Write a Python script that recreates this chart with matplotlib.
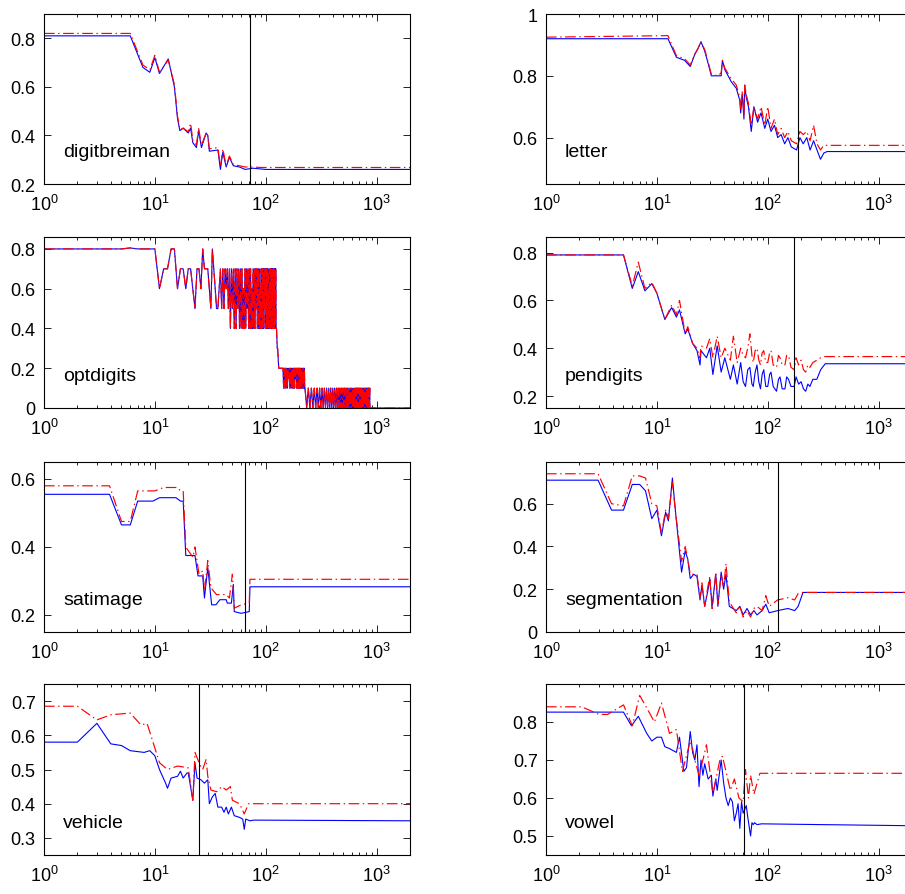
import numpy as np
import matplotlib
matplotlib.use("Agg")
import matplotlib.pyplot as plt
from matplotlib.ticker import FuncFormatter

plt.rcParams['font.family'] = ['Liberation Sans', 'DejaVu Sans']

# digitbreiman
db_xb = [1, 6, 7.8, 9, 10, 11, 13.2, 15, 16, 16.8, 18, 20, 21, 22, 23.7, 24.8, 26.3, 29, 30, 31,
         37, 39, 41, 44, 47, 51, 58, 65, 77, 90, 100, 2000]
db_yb = [0.81, 0.81, 0.68, 0.66, 0.72, 0.655, 0.715, 0.60, 0.47, 0.42, 0.43, 0.41, 0.43, 0.37, 0.35, 0.42, 0.35, 0.41, 0.40, 0.335,
         0.34, 0.26, 0.33, 0.27, 0.31, 0.275, 0.27, 0.26, 0.265, 0.262, 0.26, 0.26]
db_yr = [0.82, 0.82, 0.69, 0.67, 0.73, 0.66, 0.71, 0.61, 0.48, 0.425, 0.43, 0.415, 0.45, 0.38, 0.36, 0.43, 0.36, 0.41, 0.40, 0.345,
         0.35, 0.27, 0.345, 0.275, 0.315, 0.28, 0.275, 0.27, 0.27, 0.268, 0.268, 0.268]

# letter
lt_x = [1, 12.6, 15, 17.8, 20, 22, 23.6, 25, 27, 29, 31, 35.6, 38, 39, 41, 47, 52, 56, 57, 59,
        61, 62, 64, 67, 71, 75, 81, 87, 94, 100, 107, 115, 123, 132, 142, 152, 163, 182, 195, 209,
        225, 241, 259, 278, 299, 320, 343, 2000]
lt_yb = [0.92, 0.92, 0.86, 0.85, 0.83, 0.87, 0.89, 0.91, 0.88, 0.84, 0.80, 0.80, 0.80, 0.85, 0.82, 0.78, 0.76, 0.72, 0.68, 0.74,
         0.66, 0.77, 0.73, 0.70, 0.62, 0.70, 0.65, 0.68, 0.63, 0.66, 0.62, 0.64, 0.60, 0.61, 0.58, 0.60, 0.57, 0.56, 0.60, 0.58,
         0.60, 0.56, 0.59, 0.56, 0.53, 0.55, 0.555, 0.555]
lt_yr = [0.925, 0.93, 0.865, 0.855, 0.835, 0.87, 0.89, 0.91, 0.885, 0.845, 0.805, 0.80, 0.81, 0.85, 0.825, 0.79, 0.77, 0.73, 0.69, 0.75,
         0.67, 0.77, 0.74, 0.71, 0.64, 0.70, 0.66, 0.70, 0.64, 0.70, 0.63, 0.66, 0.61, 0.63, 0.60, 0.62, 0.59, 0.58, 0.62, 0.61,
         0.62, 0.59, 0.64, 0.58, 0.56, 0.575, 0.575, 0.575]

# optdigits (red and blue read as the same curve)
op_x = ([1, 5, 6, 7, 10, 11, 12, 13, 14, 15, 16, 17, 18, 19, 20, 21, 22, 23, 24, 25, 26, 27, 28, 30, 31, 32, 33, 34, 35, 36,
         37, 38, 39, 40] + list(range(41, 126)) + [127, 128, 131, 133, 140] + list(range(143, 226, 2))
        + list(range(226, 867, 8)) + [870, 2000])
op_y = ([0.8, 0.8, 0.805, 0.8, 0.8, 0.6, 0.7, 0.7, 0.8, 0.8, 0.6, 0.7, 0.7, 0.6, 0.7, 0.7, 0.6, 0.5, 0.7, 0.7,
         0.6, 0.8, 0.7, 0.7, 0.6, 0.5, 0.8, 0.7, 0.6, 0.5, 0.5, 0.6, 0.7, 0.5]
        + [0.7, 0.5, 0.7, 0.6, 0.7, 0.5, 0.7, 0.4, 0.7, 0.5,
           0.7, 0.4, 0.7, 0.4, 0.7, 0.5, 0.7, 0.4, 0.7, 0.4,
           0.7, 0.4, 0.6, 0.4, 0.7, 0.4, 0.7, 0.5, 0.7, 0.4,
           0.7, 0.4, 0.7, 0.4, 0.6, 0.4, 0.7, 0.4, 0.7, 0.4,
           0.7, 0.5, 0.7, 0.4, 0.7, 0.4, 0.7, 0.4, 0.6, 0.4,
           0.7, 0.4, 0.7, 0.4, 0.7, 0.4, 0.7, 0.5, 0.7, 0.4,
           0.7, 0.4, 0.7, 0.4, 0.7, 0.4, 0.6, 0.4, 0.7, 0.4,
           0.7, 0.4, 0.7, 0.4, 0.7, 0.4, 0.7, 0.4, 0.7, 0.4,
           0.7, 0.4, 0.7, 0.4, 0.4]
        + [0.3, 0.3, 0.2, 0.2, 0.2]
        + [0.2, 0.1, 0.2, 0.1, 0.2, 0.1, 0.2, 0.1, 0.2, 0.15, 0.2, 0.1, 0.2, 0.1,
           0.2, 0.1, 0.2, 0.1, 0.2, 0.1, 0.2, 0.15, 0.2, 0.1, 0.2, 0.1, 0.2, 0.1,
           0.2, 0.1, 0.2, 0.1, 0.2, 0.1, 0.2, 0.1, 0.2, 0.1, 0.2, 0.1, 0.2, 0.1]
        + [0.1, 0.0, 0.1, 0.0, 0.1, 0.0, 0.1, 0.0, 0.1, 0.0, 0.1, 0.0, 0.1, 0.0, 0.1, 0.0, 0.1, 0.0,
           0.1, 0.0, 0.1, 0.0, 0.1, 0.0, 0.1, 0.0, 0.1, 0.0, 0.1, 0.0, 0.1, 0.0, 0.1, 0.0, 0.1, 0.0,
           0.1, 0.0, 0.1, 0.0, 0.1, 0.0, 0.1, 0.0, 0.1, 0.0, 0.1, 0.0, 0.1, 0.0, 0.1, 0.0, 0.1, 0.0,
           0.1, 0.0, 0.1, 0.0, 0.1, 0.0, 0.1, 0.0, 0.1, 0.0, 0.1, 0.0, 0.1, 0.0, 0.1, 0.0, 0.1, 0.0,
           0.1, 0.0, 0.1, 0.0, 0.1, 0.0, 0.1, 0.0, 0.1]
        + [0.0, 0.0])

# pendigits
pd_x = [1, 5, 6, 6.8, 7.8, 9, 10, 11.8, 13.6, 15, 16, 18, 19, 21, 23, 24.5, 25, 28, 30, 32,
        35, 38, 41, 46, 49, 53, 57, 60, 63, 66, 69, 72, 74, 77, 80, 83, 86, 89, 92, 96,
        100, 104, 107, 112, 120, 125, 129, 135, 143, 148, 154, 162, 173, 180, 190, 200, 210, 220, 230, 240,
        255, 277, 300, 330, 2000]
pd_yb = [0.79, 0.79, 0.65, 0.72, 0.64, 0.67, 0.63, 0.52, 0.57, 0.53, 0.56, 0.46, 0.48, 0.42, 0.39, 0.33, 0.39, 0.36, 0.40, 0.29,
         0.41, 0.30, 0.36, 0.27, 0.33, 0.25, 0.34, 0.26, 0.24, 0.31, 0.32, 0.25, 0.24, 0.30, 0.33, 0.26, 0.23, 0.29, 0.31, 0.24,
         0.24, 0.29, 0.30, 0.24, 0.22, 0.27, 0.28, 0.23, 0.23, 0.28, 0.27, 0.24, 0.24, 0.28, 0.25, 0.26, 0.23, 0.22, 0.25, 0.24,
         0.27, 0.27, 0.31, 0.335, 0.335]
pd_yr = [0.79, 0.79, 0.66, 0.76, 0.65, 0.675, 0.63, 0.52, 0.58, 0.54, 0.60, 0.46, 0.49, 0.42, 0.40, 0.36, 0.41, 0.40, 0.44, 0.36,
         0.45, 0.36, 0.40, 0.35, 0.45, 0.34, 0.40, 0.37, 0.36, 0.40, 0.46, 0.37, 0.34, 0.39, 0.40, 0.35, 0.33, 0.38, 0.39, 0.34,
         0.34, 0.38, 0.39, 0.33, 0.32, 0.37, 0.36, 0.33, 0.33, 0.37, 0.37, 0.32, 0.31, 0.36, 0.33, 0.35, 0.31, 0.30, 0.33, 0.32,
         0.34, 0.35, 0.36, 0.365, 0.365]

# satimage
st_xb = [1, 3.9, 5, 6, 7, 9.6, 11, 15.5, 17, 18, 19, 23, 24.5, 27, 28, 30, 32.5, 35.5, 38.6, 44,
         45, 49, 51, 52, 60, 71, 72, 2000]
st_yb = [0.555, 0.555, 0.465, 0.465, 0.535, 0.535, 0.545, 0.545, 0.535, 0.535, 0.375, 0.375, 0.315, 0.315, 0.25, 0.34, 0.23, 0.23, 0.245, 0.245,
         0.235, 0.235, 0.29, 0.21, 0.205, 0.21, 0.283, 0.283]
st_xr = [1, 3.9, 5, 6, 7, 10, 12, 16, 17, 18, 19, 22, 23, 25, 27, 28, 30, 32, 36, 44,
         47, 50, 52, 60, 71, 72, 2000]
st_yr = [0.58, 0.58, 0.475, 0.475, 0.565, 0.565, 0.575, 0.575, 0.565, 0.565, 0.40, 0.37, 0.40, 0.32, 0.33, 0.27, 0.36, 0.28, 0.26, 0.26,
         0.25, 0.32, 0.22, 0.23, 0.235, 0.305, 0.305]

# segmentation
sg_x = [1, 2.95, 3.9, 5, 6, 7, 7.9, 9, 10, 11, 12, 12.7, 13.8, 14.8, 16.7, 18, 19, 20, 21.5, 23,
        24.5, 25.5, 27, 29, 30, 31.5, 34, 35.5, 38, 40, 42, 45, 52, 56, 60, 65, 70, 75, 80, 89,
        96, 103, 123, 152, 175, 188, 208, 2000]
sg_yb = [0.71, 0.71, 0.57, 0.57, 0.69, 0.69, 0.66, 0.53, 0.57, 0.45, 0.56, 0.52, 0.72, 0.55, 0.28, 0.38, 0.34, 0.25, 0.27, 0.26,
         0.15, 0.22, 0.12, 0.20, 0.25, 0.12, 0.27, 0.12, 0.28, 0.20, 0.27, 0.12, 0.10, 0.12, 0.08, 0.11, 0.08, 0.10, 0.08, 0.10,
         0.13, 0.09, 0.10, 0.11, 0.10, 0.12, 0.185, 0.185]
sg_yr = [0.74, 0.74, 0.60, 0.59, 0.73, 0.73, 0.72, 0.60, 0.59, 0.46, 0.57, 0.53, 0.70, 0.55, 0.33, 0.40, 0.34, 0.27, 0.27, 0.27,
         0.16, 0.23, 0.12, 0.22, 0.26, 0.10, 0.28, 0.13, 0.27, 0.21, 0.32, 0.14, 0.09, 0.12, 0.07, 0.10, 0.07, 0.11, 0.12, 0.10,
         0.17, 0.12, 0.15, 0.16, 0.15, 0.18, 0.185, 0.185]

# vehicle
vh_xb = [1, 2, 3, 4, 5, 6, 8, 9, 10, 11, 12.5, 13, 14, 16, 17, 18, 19.5, 20, 22, 23,
         24, 26, 28, 30, 31, 33, 35, 37, 40, 42, 44, 46, 49, 52, 58, 62, 64, 66, 72, 78, 2000]
vh_yb = [0.58, 0.58, 0.635, 0.575, 0.57, 0.555, 0.55, 0.555, 0.54, 0.50, 0.46, 0.445, 0.475, 0.48, 0.495, 0.475, 0.49, 0.49, 0.41, 0.52,
         0.475, 0.47, 0.46, 0.47, 0.40, 0.42, 0.43, 0.39, 0.39, 0.375, 0.39, 0.37, 0.39, 0.365, 0.36, 0.355, 0.325, 0.355, 0.35, 0.352, 0.35]
vh_xr = [1, 2, 3, 4, 6, 7.5, 8.5, 11, 13, 16, 20, 22, 23, 25, 27, 29, 30, 32, 36, 40,
         44, 48, 50, 58, 64, 70, 2000]
vh_yr = [0.685, 0.685, 0.645, 0.66, 0.665, 0.63, 0.635, 0.52, 0.50, 0.51, 0.505, 0.41, 0.55, 0.52, 0.50, 0.53, 0.48, 0.44, 0.435, 0.45,
         0.44, 0.45, 0.41, 0.40, 0.37, 0.40, 0.40]

# vowel
vw_xb = [1, 5, 5.9, 6.8, 8.1, 9, 10, 11, 11.8, 13, 15, 16, 17.5, 18.5, 20, 21, 22, 23, 24, 25,
         26, 27, 29, 31, 32, 34, 35, 38, 40, 42, 44, 46, 48, 50, 52, 54, 56, 58, 60, 62,
         64, 66, 70, 72, 74, 76, 80, 88, 300, 2000]
vw_yb = [0.826, 0.826, 0.79, 0.815, 0.77, 0.75, 0.76, 0.76, 0.735, 0.73, 0.72, 0.76, 0.67, 0.68, 0.775, 0.72, 0.70, 0.74, 0.63, 0.70,
         0.66, 0.69, 0.65, 0.66, 0.605, 0.65, 0.62, 0.70, 0.64, 0.60, 0.58, 0.60, 0.59, 0.54, 0.56, 0.585, 0.52, 0.59, 0.56, 0.57,
         0.58, 0.55, 0.50, 0.535, 0.53, 0.535, 0.53, 0.532, 0.53, 0.527]
vw_xr = [1, 2.1, 3, 3.6, 5, 6, 7, 8, 9.5, 11, 13, 15, 17, 20, 21, 22, 24, 26, 28, 32,
         37, 39, 42, 46, 50, 55, 60, 63, 67, 70, 75, 85, 2000]
vw_yr = [0.84, 0.84, 0.82, 0.82, 0.845, 0.79, 0.87, 0.84, 0.80, 0.85, 0.77, 0.78, 0.67, 0.75, 0.73, 0.70, 0.66, 0.70, 0.74, 0.61,
         0.70, 0.71, 0.67, 0.62, 0.65, 0.60, 0.59, 0.675, 0.60, 0.66, 0.61, 0.665, 0.665]

names = ['digitbreiman', 'letter', 'optdigits', 'pendigits', 'satimage', 'segmentation', 'vehicle', 'vowel']
blue = [(db_xb, db_yb), (lt_x, lt_yb), (op_x, op_y), (pd_x, pd_yb),
        (st_xb, st_yb), (sg_x, sg_yb), (vh_xb, vh_yb), (vw_xb, vw_yb)]
red = [(db_xb, db_yr), (lt_x, lt_yr), (op_x, op_y), (pd_x, pd_yr),
       (st_xr, st_yr), (sg_x, sg_yr), (vh_xr, vh_yr), (vw_xr, vw_yr)]
vlines = [72, 186, None, 173, 65, 123, 25, 61]
ylims = [(0.2, 0.9), (0.45, 1.0), (0, 0.86), (0.15, 0.865), (0.15, 0.65), (0, 0.795), (0.25, 0.75), (0.45, 0.9)]
yticks = [[0.2, 0.4, 0.6, 0.8], [0.6, 0.8, 1], [0, 0.2, 0.4, 0.6, 0.8], [0.2, 0.4, 0.6, 0.8],
          [0.2, 0.4, 0.6], [0, 0.2, 0.4, 0.6], [0.3, 0.4, 0.5, 0.6, 0.7], [0.5, 0.6, 0.7, 0.8]]

W, H = 905, 895
fig = plt.figure(figsize=(W / 100, H / 100), dpi=100)
col_left = [44, 546]
row_top = [15, 238, 463, 685]
row_bot = [185, 409, 633, 856]
aw = 366

for i in range(8):
    r, c = divmod(i, 2)
    ax = fig.add_axes([col_left[c] / W, 1 - row_bot[r] / H, aw / W, (row_bot[r] - row_top[r]) / H])
    ax.plot(blue[i][0], blue[i][1], color='#0000ff', lw=0.8)
    ax.plot(red[i][0], red[i][1], color='#ff0000', lw=0.85, linestyle=(0, (9, 3, 1.2, 3)))
    if vlines[i] is not None:
        ax.axvline(vlines[i], color='black', lw=0.8)
    ax.set_xscale('log')
    ax.set_xlim(1, 2000)
    ax.set_ylim(*ylims[i])
    ax.set_yticks(yticks[i])
    ax.set_xticks([1, 10, 100, 1000])
    ax.yaxis.set_major_formatter(FuncFormatter(lambda v, p: f"{v:g}"))
    ax.tick_params(which='both', direction='in', top=True, right=True, width=0.6)
    ax.tick_params(which='major', length=5, labelsize=13)
    ax.tick_params(which='minor', length=2.5)
    ax.tick_params(axis='y', pad=6)
    ax.tick_params(axis='x', pad=7)
    for s in ax.spines.values():
        s.set_linewidth(0.8)
    ax.text(0.052, 0.19, names[i], transform=ax.transAxes, va='center', ha='left', fontsize=14)

fig.savefig('out.png', dpi=100)
